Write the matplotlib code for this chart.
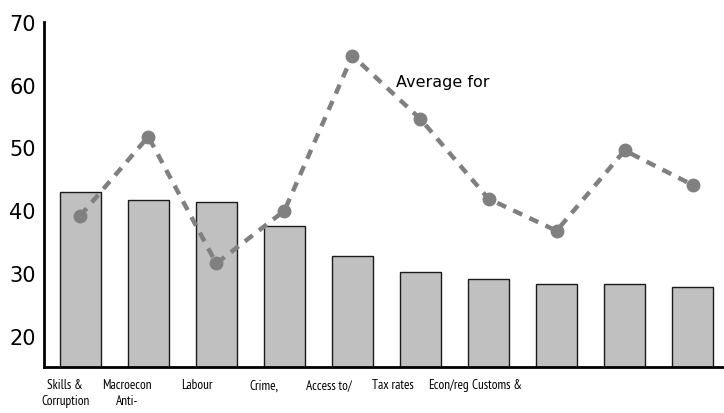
import matplotlib.pyplot as plt
import numpy as np

# obstacle scores (bars) and the comparison average (dashed line)
categories = ["Skills &\nCorruption", "Macroecon\nAnti-", "Labour", "Crime,",
              "Access to/", "Tax rates", "Econ/reg", "Customs &"]
label_pos = [-0.22, 0.69, 1.72, 2.70, 3.66, 4.59, 5.41, 6.12]
bar_values = [42.9, 41.6, 41.3, 37.5, 32.7, 30.1, 29.1, 28.2, 28.2, 27.7]
avg_values = [39.1, 51.7, 31.5, 39.9, 64.6, 54.5, 41.8, 36.7, 49.5, 44.0]

x = np.arange(len(bar_values))

fig, ax = plt.subplots(figsize=(7.24, 4.14), dpi=100)
fig.subplots_adjust(left=0.061, right=1.0, top=0.945, bottom=0.111)

ax.bar(x, bar_values, width=0.6, color="#c0c0c0", edgecolor="#1a1a1a",
       linewidth=1.0, zorder=2)
ax.plot(x, avg_values, color="#808080", linestyle=(0, (2.2, 1.8)), linewidth=3.2,
        marker="o", markersize=9, zorder=3)
ax.text(4.64, 60.5, "Average for", fontsize=11.5, color="black",
        va="center", ha="left")

ax.set_ylim(15, 70)
ax.set_xlim(-0.53, 9.46)
ax.set_yticks([20, 30, 40, 50, 60, 70])
ax.tick_params(axis="y", length=0, labelsize=15, pad=6)
ax.set_xticks(label_pos)
ax.set_xticklabels(categories, family=["PT Sans Narrow", "DejaVu Sans"],
                   fontsize=9.5, linespacing=1.3)
ax.tick_params(axis="x", length=0, pad=8)

for s in ["top", "right"]:
    ax.spines[s].set_visible(False)
for s in ["left", "bottom"]:
    ax.spines[s].set_linewidth(2)

fig.savefig("out.png", dpi=100)
